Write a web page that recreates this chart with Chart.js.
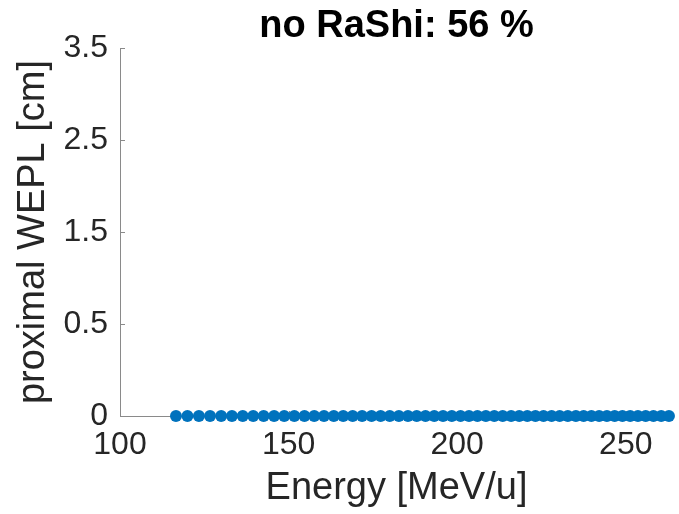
<!DOCTYPE html>
<html>
<head>
<meta charset="utf-8">
<script src="https://cdn.jsdelivr.net/npm/chart.js@4/dist/chart.umd.min.js"></script>
<style>
  html, body { margin: 0; padding: 0; background: #ffffff; }
  #wrap { width: 679px; height: 514px; }
</style>
</head>
<body>
<div id="wrap"><canvas id="c" width="679" height="514"></canvas></div>
<script>
// Beam energies [MeV/u] and the proximal WEPL [cm] found at each one
const energies = [
  116.6, 120.0, 123.4, 126.7, 130.0, 133.2, 136.4, 139.5,
  142.6, 145.7, 148.7, 151.7, 154.7, 157.6, 160.5, 163.4,
  166.2, 169.0, 171.8, 174.6, 177.3, 180.0, 182.7, 185.4,
  188.0, 190.6, 193.2, 195.8, 198.4, 201.0, 203.5, 206.0,
  208.5, 211.0, 213.5, 216.0, 218.4, 220.8, 223.2, 225.6,
  228.0, 230.4, 232.8, 235.2, 237.5, 239.8, 242.1, 244.4,
  246.7, 249.0, 251.3, 253.6, 255.9, 258.2, 260.5, 262.8
];
const proximalWEPL = [
  0, 0, 0, 0, 0, 0, 0, 0,
  0, 0, 0, 0, 0, 0, 0, 0,
  0, 0, 0, 0, 0, 0, 0, 0,
  0, 0, 0, 0, 0, 0, 0, 0,
  0, 0, 0, 0, 0, 0, 0, 0,
  0, 0, 0, 0, 0, 0, 0, 0,
  0, 0, 0, 0, 0, 0, 0, 0
];

// Axis ticks
const xTickValues = [100, 150, 200, 250];
const yTickValues = [0, 1, 2, 3, 4];
const yTickLabels = ['0', '0.5', '1.5', '2.5', '3.5'];

const titleText = 'no RaShi: 56 %';
const xTitle = 'Energy [MeV/u]';
const yTitle = 'proximal WEPL [cm]';

const FONT = "'Liberation Sans', Arial, Helvetica, sans-serif";
const AXIS_GRAY = '#8a8a8a';
const TEXT_GRAY = '#262626';

const points = energies.map((e, i) => ({ x: e, y: proximalWEPL[i] }));

// Short inward tick marks on both axes and a title centred over the plot box
const axesDecor = {
  id: 'axesDecor',
  beforeDatasetsDraw(chart) {
    const { ctx, chartArea, scales } = chart;
    const len = 5;
    ctx.save();
    ctx.strokeStyle = AXIS_GRAY;
    ctx.lineWidth = 1;
    ctx.beginPath();
    yTickValues.forEach(v => {
      const py = Math.round(scales.y.getPixelForValue(v)) + 0.5;
      ctx.moveTo(chartArea.left, py);
      ctx.lineTo(chartArea.left + len, py);
    });
    xTickValues.forEach(v => {
      const px = Math.round(scales.x.getPixelForValue(v)) + 0.5;
      ctx.moveTo(px, chartArea.bottom);
      ctx.lineTo(px, chartArea.bottom - len);
    });
    ctx.stroke();
    ctx.restore();
  },
  afterDraw(chart) {
    const { ctx, chartArea } = chart;
    ctx.save();
    ctx.font = 'bold 38px ' + FONT;
    ctx.fillStyle = '#000000';
    ctx.textAlign = 'center';
    ctx.textBaseline = 'alphabetic';
    ctx.fillText(titleText, (chartArea.left + chartArea.right) / 2, 37);
    ctx.restore();
  }
};

new Chart(document.getElementById('c'), {
  type: 'scatter',
  data: {
    datasets: [{
      data: points,
      pointRadius: 6,
      pointHoverRadius: 6,
      pointBackgroundColor: '#0072BD',
      pointBorderWidth: 0,
      showLine: false,
      clip: false
    }]
  },
  options: {
    responsive: false,
    devicePixelRatio: 1,
    animation: false,
    events: [],
    layout: { padding: { top: 48, right: 5, left: 0, bottom: 0 } },
    plugins: {
      legend: { display: false },
      title: { display: false },
      tooltip: { enabled: false }
    },
    scales: {
      x: {
        type: 'linear',
        min: 100,
        max: 264,
        afterFit(scale) { scale.height = 98; },
        afterBuildTicks(scale) { scale.ticks = xTickValues.map(v => ({ value: v })); },
        grid: { display: false, drawTicks: false },
        border: { display: true, color: AXIS_GRAY, width: 1 },
        ticks: {
          color: TEXT_GRAY,
          font: { family: FONT, size: 32 },
          padding: 10,
          maxRotation: 0,
          autoSkip: false
        },
        title: {
          display: true,
          text: xTitle,
          color: TEXT_GRAY,
          font: { family: FONT, size: 38 },
          padding: { top: 0, bottom: 3 }
        }
      },
      y: {
        type: 'linear',
        min: 0,
        max: 4,
        afterFit(scale) { scale.width = 120; },
        afterBuildTicks(scale) { scale.ticks = yTickValues.map(v => ({ value: v })); },
        grid: { display: false, drawTicks: false },
        border: { display: true, color: AXIS_GRAY, width: 1 },
        ticks: {
          color: TEXT_GRAY,
          font: { family: FONT, size: 32 },
          padding: 12,
          autoSkip: false,
          callback(value) {
            const i = yTickValues.indexOf(value);
            return i >= 0 ? yTickLabels[i] : '';
          }
        },
        title: {
          display: true,
          text: yTitle,
          color: TEXT_GRAY,
          font: { family: FONT, size: 38 },
          padding: { top: 11, bottom: 0 }
        }
      }
    }
  },
  plugins: [axesDecor]
});
</script>
</body>
</html>
